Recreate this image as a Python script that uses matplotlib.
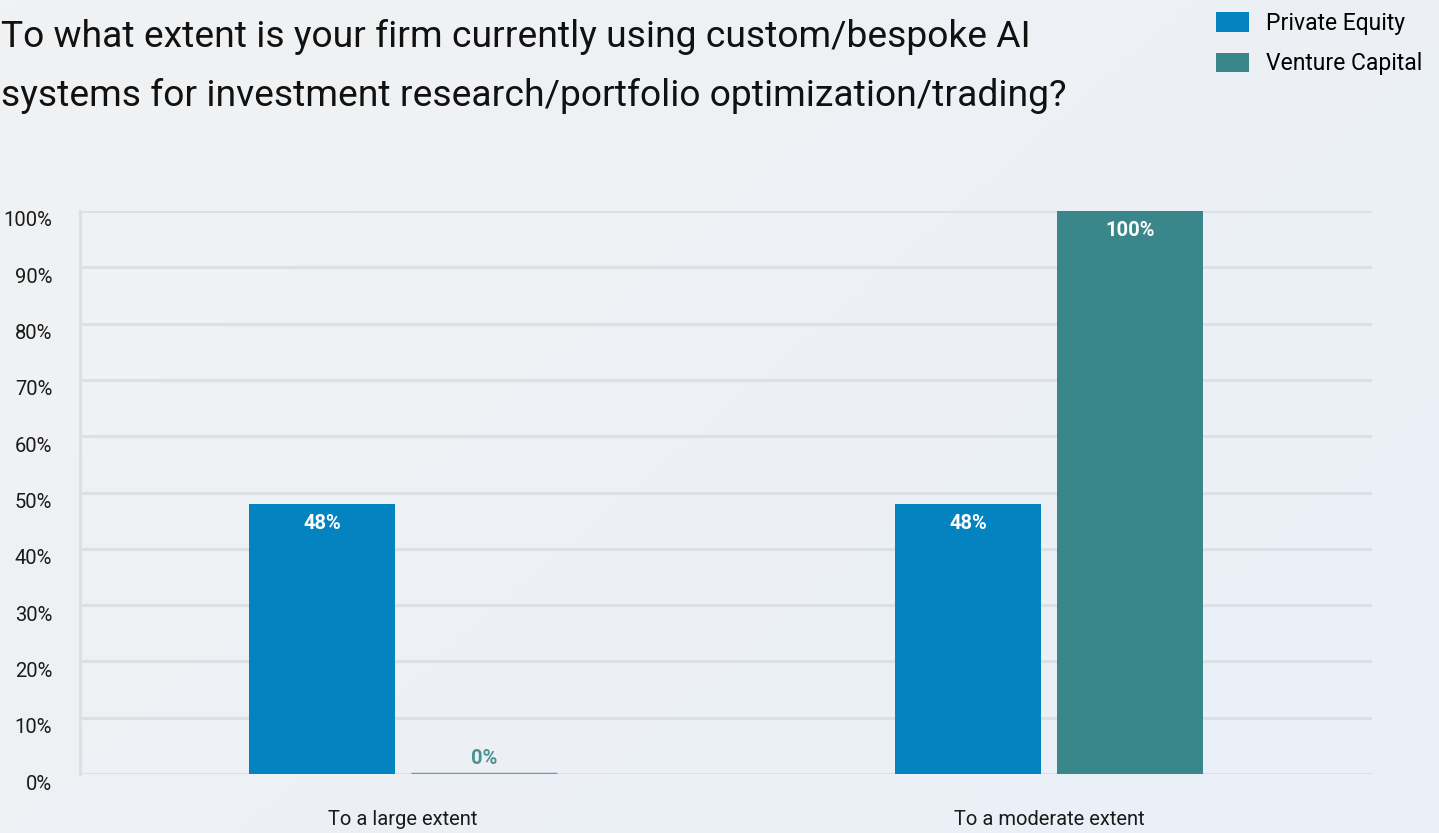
import numpy as np
import matplotlib.pyplot as plt
import matplotlib.transforms as mtransforms
from matplotlib.colors import LinearSegmentedColormap

plt.rcParams['font.family'] = ['Roboto', 'DejaVu Sans']

# Data
categories = ['To a large extent', 'To a moderate extent']
series = ['Private Equity', 'Venture Capital']
private_equity = [48, 48]
venture_capital = [0, 100]
yticks = [0, 10, 20, 30, 40, 50, 60, 70, 80, 90, 100]

colors = ['#0483c1', '#3a878b']
zero_color = '#62a2a6'
grid_color = '#dcdfe3'

fig = plt.figure(figsize=(14.39, 8.33), dpi=100)

# background gradient (grey top-left -> light blue bottom-right)
bg = fig.add_axes([0, 0, 1, 1], zorder=-10)
gx, gy = np.meshgrid(np.linspace(0, 1, 200), np.linspace(0, 1, 200))
grad = 0.6 * gx + 0.4 * gy
cmap = LinearSegmentedColormap.from_list('bg', ['#f1f2f3', '#e9f0f8'])
bg.imshow(grad, cmap=cmap, aspect='auto', extent=[0, 1, 0, 1], origin='upper')
bg.axis('off')

ax = fig.add_axes([80 / 1439, 1 - 774 / 833, 1292 / 1439, 563 / 833])
ax.patch.set_alpha(0)

x = np.arange(len(categories))
w = 0.226
off = 0.125
vals_all = [private_equity, venture_capital]
for i, (name, vals) in enumerate(zip(series, vals_all)):
    xs = x + (i * 2 - 1) * off
    ax.bar(xs, vals, width=w, color=colors[i], label=name, zorder=3, linewidth=0)
    for xx, v in zip(xs, vals):
        if v > 5:
            ax.text(xx, v - 1.8, f'{v}%', ha='center', va='top', color='white',
                    fontsize=14.5, fontweight='bold', zorder=4)
        else:
            # zero values shown as a thin line
            ax.hlines(v, xx - w / 2, xx + w / 2, color=zero_color, linewidth=2.5, zorder=4)
            ax.text(xx, v + 1.0, f'{v}%', ha='center', va='bottom', color='#4a9196',
                    fontsize=14.5, fontweight='bold', zorder=4)

ax.set_xlim(-0.5, 1.5)
ax.set_ylim(0, 100)
ax.set_yticks(yticks)
ax.set_yticklabels([f'{t}%' for t in yticks], fontsize=14.5, color='#1a1a1a')
ax.yaxis.grid(True, color=grid_color, linewidth=2.2, zorder=0)
ax.set_axisbelow(True)
ax.tick_params(axis='y', length=0, pad=20)
shift = mtransforms.ScaledTranslation(0, -8 / 100, fig.dpi_scale_trans)
for lab in ax.get_yticklabels():
    lab.set_transform(lab.get_transform() + shift)

ax.set_xticks(x)
ax.set_xticklabels(categories, fontsize=14.5, color='#1a1a1a')
ax.tick_params(axis='x', length=0, pad=26)

for s in ['top', 'right', 'bottom']:
    ax.spines[s].set_visible(False)
ax.spines['left'].set_color(grid_color)
ax.spines['left'].set_linewidth(2.2)

fig.text(0.001, 1 - 47 / 833, 'To what extent is your firm currently using custom/bespoke AI',
         fontsize=26.8, color='#111111', ha='left', va='baseline')
fig.text(0.001, 1 - 106 / 833, 'systems for investment research/portfolio optimization/trading?',
         fontsize=26.8, color='#111111', ha='left', va='baseline')

leg = fig.legend(loc='upper right', bbox_to_anchor=(1422 / 1439, 1 - 12 / 833), frameon=False,
                 fontsize=16.5, handlelength=1.43, handleheight=0.92, labelspacing=0.76,
                 handletextpad=0.74, borderaxespad=0, borderpad=0)

fig.savefig('out.png', dpi=100)
